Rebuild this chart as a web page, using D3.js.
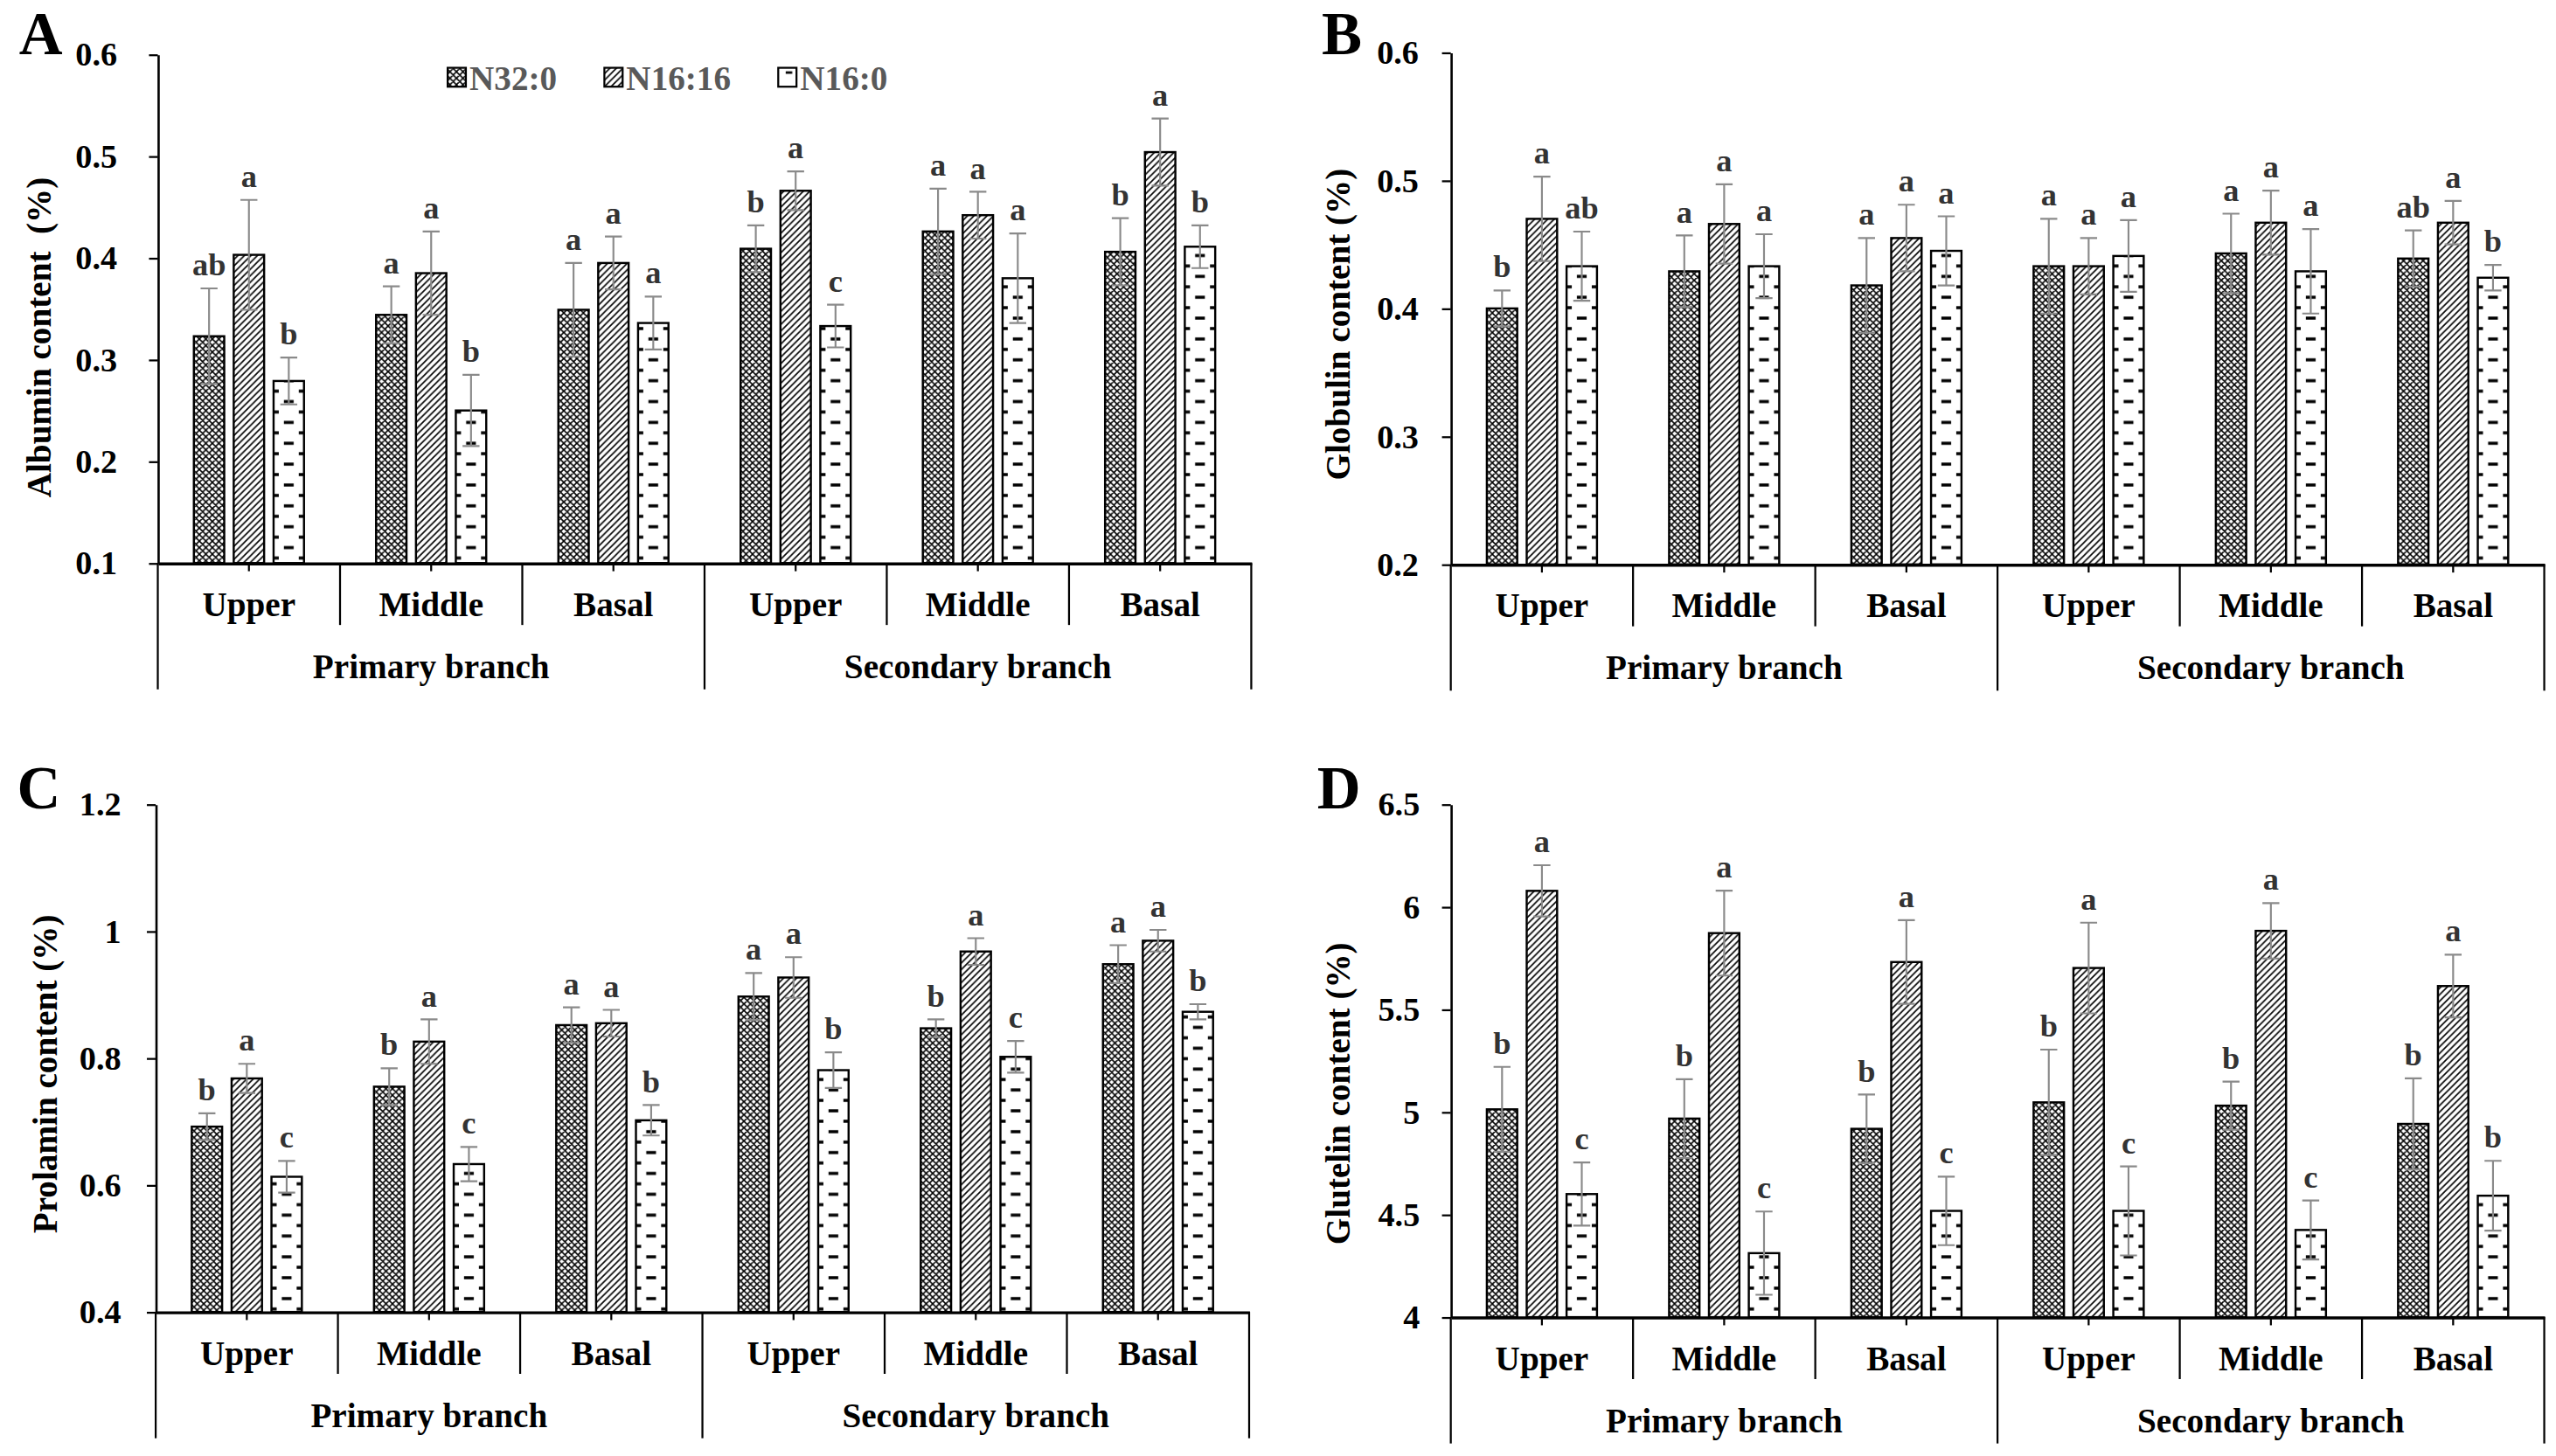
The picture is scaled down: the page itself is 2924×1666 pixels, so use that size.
<!DOCTYPE html>
<html>
<head>
<meta charset="utf-8">
<script src="https://cdn.jsdelivr.net/npm/d3@7"></script>
<style>
  html, body { margin: 0; padding: 0; background: #fff; }
  svg { display: block; }
  text { font-family: "Liberation Serif", "Times New Roman", serif; font-weight: bold; }
</style>
</head>
<body>
<svg id="fig"></svg>
<script>
// categories
var positions = ['Upper', 'Middle', 'Basal', 'Upper', 'Middle', 'Basal'];
var branches = ['Primary branch', 'Secondary branch'];
var treatments = ['N32:0', 'N16:16', 'N16:0'];

// A - albumin (rows: groups, cols: treatments)
var albuminMeans = [[0.323, 0.403, 0.279], [0.344, 0.385, 0.250], [0.349, 0.395, 0.336],
                    [0.409, 0.466, 0.333], [0.426, 0.442, 0.380], [0.406, 0.504, 0.411]];
var albuminSD = [[0.047, 0.054, 0.023], [0.028, 0.041, 0.035], [0.046, 0.026, 0.026],
                 [0.023, 0.019, 0.021], [0.042, 0.023, 0.044], [0.033, 0.033, 0.021]];
var albuminLetters = [['ab', 'a', 'b'], ['a', 'a', 'b'], ['a', 'a', 'a'],
                      ['b', 'a', 'c'], ['a', 'a', 'a'], ['b', 'a', 'b']];
var albuminTicks = [0.1, 0.2, 0.3, 0.4, 0.5, 0.6];

// B - globulin
var globulinMeans = [[0.400, 0.470, 0.433], [0.429, 0.466, 0.433], [0.418, 0.455, 0.445],
                     [0.433, 0.433, 0.441], [0.443, 0.467, 0.429], [0.439, 0.467, 0.424]];
var globulinSD = [[0.014, 0.033, 0.027], [0.028, 0.031, 0.025], [0.037, 0.026, 0.027],
                  [0.037, 0.022, 0.028], [0.031, 0.025, 0.033], [0.022, 0.017, 0.010]];
var globulinLetters = [['b', 'a', 'ab'], ['a', 'a', 'a'], ['a', 'a', 'a'],
                       ['a', 'a', 'a'], ['a', 'a', 'a'], ['ab', 'a', 'b']];
var globulinTicks = [0.2, 0.3, 0.4, 0.5, 0.6];

// C - prolamin
var prolaminMeans = [[0.692, 0.768, 0.613], [0.755, 0.826, 0.633], [0.852, 0.855, 0.702],
                     [0.897, 0.927, 0.781], [0.847, 0.968, 0.802], [0.948, 0.985, 0.873]];
var prolaminSD = [[0.021, 0.023, 0.025], [0.029, 0.035, 0.027], [0.028, 0.021, 0.024],
                  [0.037, 0.032, 0.028], [0.014, 0.021, 0.025], [0.030, 0.017, 0.012]];
var prolaminLetters = [['b', 'a', 'c'], ['b', 'a', 'c'], ['a', 'a', 'b'],
                       ['a', 'a', 'b'], ['b', 'a', 'c'], ['a', 'a', 'b']];
var prolaminTicks = [0.4, 0.6, 0.8, 1, 1.2];

// D - glutelin
var glutelinMeans = [[5.013, 6.078, 4.600], [4.968, 5.872, 4.312], [4.918, 5.731, 4.518],
                     [5.047, 5.702, 4.518], [5.031, 5.883, 4.425], [4.942, 5.614, 4.592]];
var glutelinSD = [[0.207, 0.125, 0.154], [0.192, 0.207, 0.203], [0.167, 0.204, 0.167],
                  [0.257, 0.221, 0.217], [0.117, 0.135, 0.144], [0.222, 0.153, 0.170]];
var glutelinLetters = [['b', 'a', 'c'], ['b', 'a', 'c'], ['b', 'a', 'c'],
                       ['b', 'a', 'c'], ['b', 'a', 'c'], ['b', 'a', 'b']];
var glutelinTicks = [4, 4.5, 5, 5.5, 6, 6.5];

// layout, in a 1568-wide frame scaled up to the page
var frameW = 1568, frameH = 893.4;
var groupW = 111.8;

var panels = [
  { tag: 'A', title: 'Albumin content  (%)', means: albuminMeans, sd: albuminSD, letters: albuminLetters, ticks: albuminTicks,
    x0: 96.8, yTop: 33.4, yBot: 345.5, tickPad: 19.5, tagX: 11.7, tagY: 33, titleX: 24, titleY: 207, legend: true },
  { tag: 'B', title: 'Globulin content (%)', means: globulinMeans, sd: globulinSD, letters: globulinLetters, ticks: globulinTicks,
    x0: 890, yTop: 32.2, yBot: 346.3, tickPad: 14.3, tagX: 810.8, tagY: 33, titleX: 820.4, titleY: 199 },
  { tag: 'C', title: 'Prolamin content (%)', means: prolaminMeans, sd: prolaminSD, letters: prolaminLetters, ticks: prolaminTicks,
    x0: 95.5, yTop: 493.5, yBot: 805, tickPad: 15.8, tagX: 10.5, tagY: 496, titleX: 27.7, titleY: 659 },
  { tag: 'D', title: 'Glutelin content (%)', means: glutelinMeans, sd: glutelinSD, letters: glutelinLetters, ticks: glutelinTicks,
    x0: 890, yTop: 493.5, yBot: 808.2, tickPad: 13.6, tagX: 808, tagY: 496, titleX: 820.5, titleY: 671 }
];

var svg = d3.select('#fig')
  .attr('width', 2924)
  .attr('height', 1666)
  .attr('viewBox', '0 0 ' + frameW + ' ' + frameH);

// bar band inside one group
var seriesScale = d3.scaleBand()
  .domain([0, 1, 2])
  .range([0, groupW])
  .paddingInner(0.184)
  .paddingOuter(0.878);
var bw = seriesScale.bandwidth();
var strokeW = 1.3;
var rectW = bw - strokeW;

// fill patterns
var defs = svg.append('defs');

var cross = defs.append('pattern')
  .attr('id', 'pat0')
  .attr('patternUnits', 'userSpaceOnUse')
  .attr('width', 4).attr('height', 4);
cross.append('rect').attr('width', 4).attr('height', 4).attr('fill', '#fff');
cross.append('path')
  .attr('d', 'M0,0L4,4M4,0L0,4M-1,1L1,-1M3,5L5,3M-1,3L1,5M3,-1L5,1')
  .attr('stroke', '#000').attr('stroke-width', 0.85);

var diag = defs.append('pattern')
  .attr('id', 'pat1')
  .attr('patternUnits', 'userSpaceOnUse')
  .attr('width', 4).attr('height', 4);
diag.append('rect').attr('width', 4).attr('height', 4).attr('fill', '#fff');
diag.append('path')
  .attr('d', 'M0,4L4,0M-1,1L1,-1M3,5L5,3')
  .attr('stroke', '#000').attr('stroke-width', 0.9);

// dashes: one centred dash, then a row of half-dashes at the bar edges
var dashH = 12.8;
var dash = defs.append('pattern')
  .attr('id', 'pat2')
  .attr('patternUnits', 'userSpaceOnUse')
  .attr('x', strokeW / 2)
  .attr('width', rectW).attr('height', dashH);
dash.append('rect').attr('width', rectW).attr('height', dashH).attr('fill', '#fff');
dash.append('path')
  .attr('d', 'M' + (rectW / 2 - 3) + ',3.2H' + (rectW / 2 + 3) +
             'M0,9.6H3.2M' + (rectW - 3.2) + ',9.6H' + rectW)
  .attr('stroke', '#000').attr('stroke-width', 1.8);

var legendDash = defs.append('pattern')
  .attr('id', 'patLegend2')
  .attr('patternUnits', 'userSpaceOnUse')
  .attr('width', 12).attr('height', 12);
legendDash.append('rect').attr('width', 12).attr('height', 12).attr('fill', '#fff');
legendDash.append('path').attr('d', 'M2,8.5H6').attr('stroke', '#000').attr('stroke-width', 1.5);

var fills = ['url(#pat0)', 'url(#pat1)', 'url(#pat2)'];

function drawPanel(p) {
  var g = svg.append('g');
  var xEnd = p.x0 + groupW * positions.length;

  var y = d3.scaleLinear()
    .domain([p.ticks[0], p.ticks[p.ticks.length - 1]])
    .range([p.yBot, p.yTop]);

  var groupScale = d3.scaleBand()
    .domain(d3.range(positions.length))
    .range([p.x0, xEnd]);

  // panel tag
  g.append('text')
    .attr('x', p.tagX).attr('y', p.tagY)
    .attr('font-size', 37)
    .text(p.tag);

  // y title
  g.append('text')
    .attr('transform', 'translate(' + p.titleX + ',' + p.titleY + ') rotate(-90)')
    .attr('text-anchor', 'middle')
    .attr('dy', '0.35em')
    .attr('font-size', 21)
    .style('white-space', 'pre')
    .text(p.title);

  // bars
  var bars = g.append('g');
  p.means.forEach(function(row, i) {
    row.forEach(function(v, j) {
      var bx = groupScale(i) + seriesScale(j);
      var bg = bars.append('g').attr('transform', 'translate(' + bx + ',0)');
      bg.append('rect')
        .attr('x', strokeW / 2)
        .attr('y', y(v))
        .attr('width', rectW)
        .attr('height', p.yBot - y(v))
        .attr('fill', fills[j])
        .attr('stroke', '#000')
        .attr('stroke-width', strokeW);

      var s = p.sd[i][j];
      var cx = bw / 2, hi = y(v + s), lo = y(v - s);
      bg.append('path')
        .attr('d', 'M' + cx + ',' + lo + 'V' + hi +
                   'M' + (cx - 5.2) + ',' + hi + 'H' + (cx + 5.2) +
                   'M' + (cx - 5.2) + ',' + lo + 'H' + (cx + 5.2))
        .attr('fill', 'none')
        .attr('stroke', '#8a8a8a')
        .attr('stroke-width', 1.15);

      bg.append('text')
        .attr('x', cx)
        .attr('y', hi - 8)
        .attr('text-anchor', 'middle')
        .attr('font-size', 19.5)
        .attr('fill', '#333')
        .text(p.letters[i][j]);
    });
  });

  // y axis
  var yAxis = g.append('g')
    .attr('transform', 'translate(' + p.x0 + ',0)')
    .call(d3.axisLeft(y)
      .tickValues(p.ticks)
      .tickSize(5.4)
      .tickSizeOuter(0)
      .tickPadding(p.tickPad)
      .tickFormat(function(d) { return String(d); }));
  yAxis.select('.domain').attr('stroke-width', 1.4);
  yAxis.selectAll('.tick line').attr('stroke-width', 1.2);
  yAxis.selectAll('.tick text')
    .attr('font-size', 20.5)
    .attr('font-family', null)
    .attr('fill', '#000');

  // x axis
  var xAxis = g.append('g')
    .attr('transform', 'translate(0,' + p.yBot + ')')
    .call(d3.axisBottom(groupScale)
      .tickSize(5)
      .tickSizeOuter(0)
      .tickPadding(12.6)
      .tickFormat(function(i) { return positions[i]; }));
  xAxis.select('.domain').attr('stroke-width', 1.8);
  xAxis.selectAll('.tick line').attr('stroke-width', 1.2);
  xAxis.selectAll('.tick text')
    .attr('font-size', 21)
    .attr('font-family', null)
    .attr('fill', '#000');

  // group dividers and branch labels
  var dividers = d3.range(positions.length + 1);
  g.selectAll('line.div')
    .data(dividers)
    .enter().append('line')
      .attr('class', 'div')
      .attr('x1', function(k) { return p.x0 + k * groupScale.step(); })
      .attr('x2', function(k) { return p.x0 + k * groupScale.step(); })
      .attr('y1', p.yBot)
      .attr('y2', function(k) { return p.yBot + (k % 3 === 0 ? 77.5 : 38); })
      .attr('stroke', '#000')
      .attr('stroke-width', 1.2);

  g.selectAll('text.branch')
    .data(branches)
    .enter().append('text')
      .attr('class', 'branch')
      .attr('x', function(d, k) { return p.x0 + (k * 3 + 1.5) * groupScale.step(); })
      .attr('y', p.yBot + 70.5)
      .attr('text-anchor', 'middle')
      .attr('font-size', 21)
      .text(function(d) { return d; });

  if (p.legend) {
    var lx = 274;
    treatments.forEach(function(t, j) {
      g.append('rect')
        .attr('x', lx + 0.6).attr('y', 41.6)
        .attr('width', 11.2).attr('height', 11.6)
        .attr('fill', j === 2 ? 'url(#patLegend2)' : fills[j])
        .attr('stroke', '#000')
        .attr('stroke-width', 1.2);
      var label = g.append('text')
        .attr('x', lx + 14).attr('y', 55.4)
        .attr('font-size', 21)
        .attr('fill', '#595959')
        .text(t);
      lx = lx + 14 + label.node().getComputedTextLength() + 28.5;
    });
  }
}

panels.forEach(drawPanel);
</script>
</body>
</html>
